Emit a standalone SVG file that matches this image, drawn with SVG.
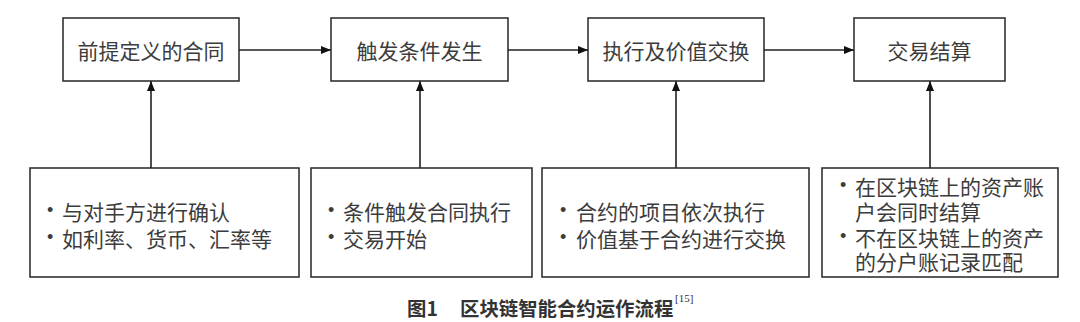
<svg xmlns="http://www.w3.org/2000/svg" width="1080" height="322" viewBox="0 0 1080 322">
<style>
.box{fill:#fff;stroke:#333;stroke-width:1.6}
.t{font-family:"Noto Sans CJK SC","Noto Sans",sans-serif;font-size:21px;fill:#3c3c3c;dominant-baseline:central}
.td{font-family:"Liberation Sans","Noto Sans CJK SC",sans-serif;font-size:21px;fill:#3c3c3c;dominant-baseline:central}
.b{font-family:"Liberation Sans",sans-serif;font-size:18px;fill:#3c3c3c;dominant-baseline:central}
.c{text-anchor:middle}
.cap{font-family:"Noto Sans CJK SC","Noto Sans",sans-serif;font-size:19.4px;font-weight:bold;fill:#333;dominant-baseline:central}
.sup{font-family:"Liberation Serif",serif;font-size:11px;fill:#333}
.ln{fill:none;stroke:#222;stroke-width:1.6}
</style>
<defs>
<marker id="ah" viewBox="0 0 10 8" refX="10" refY="4" markerWidth="10" markerHeight="8" markerUnits="userSpaceOnUse" orient="auto">
<path d="M0,0 L10,4 L0,8 z" fill="#111"/>
</marker>
</defs>
<rect width="1080" height="322" fill="#fff"/>
<g id="n1"><rect class="box" x="63" y="18" width="176" height="63"/><text class="t c" x="151" y="50">前提定义的合同</text></g>
<g id="n2"><rect class="box" x="331" y="18" width="177" height="63"/><text class="t c" x="419.5" y="50">触发条件发生</text></g>
<g id="n3"><rect class="box" x="588" y="18" width="176" height="63"/><text class="t c" x="676" y="50">执行及价值交换</text></g>
<g id="n4"><rect class="box" x="854" y="18" width="151" height="63"/><text class="t c" x="929.5" y="50">交易结算</text></g>
<g id="b1"><rect class="box" x="30" y="168" width="269" height="109"/>
<text class="b" x="47" y="210">•</text><text class="td" x="62" y="212">与对手方进行确认</text>
<text class="b" x="47" y="237">•</text><text class="td" x="62" y="239">如利率、货币、汇率等</text></g>
<g id="b2"><rect class="box" x="311" y="168" width="221" height="109"/>
<text class="b" x="328" y="210">•</text><text class="td" x="343" y="212">条件触发合同执行</text>
<text class="b" x="328" y="237">•</text><text class="td" x="343" y="239">交易开始</text></g>
<g id="b3"><rect class="box" x="542" y="168" width="267" height="109"/>
<text class="b" x="560" y="210">•</text><text class="td" x="576" y="212">合约的项目依次执行</text>
<text class="b" x="560" y="237">•</text><text class="td" x="576" y="239">价值基于合约进行交换</text></g>
<g id="b4"><rect class="box" x="822" y="168" width="236" height="109"/>
<text class="b" x="840" y="185">•</text><text class="td" x="855" y="187">在区块链上的资产账</text>
<text class="td" x="855" y="212">户会同时结算</text>
<text class="b" x="840" y="236">•</text><text class="td" x="855" y="238">不在区块链上的资产</text>
<text class="td" x="855" y="262">的分户账记录匹配</text></g>
<g id="connectors">
<line class="ln" x1="239" y1="50" x2="331" y2="50" marker-end="url(#ah)"/>
<line class="ln" x1="508" y1="50" x2="588" y2="50" marker-end="url(#ah)"/>
<line class="ln" x1="764" y1="50" x2="854" y2="50" marker-end="url(#ah)"/>
<line class="ln" x1="151" y1="168" x2="151" y2="81" marker-end="url(#ah)"/>
<line class="ln" x1="420" y1="168" x2="420" y2="81" marker-end="url(#ah)"/>
<line class="ln" x1="676" y1="168" x2="676" y2="81" marker-end="url(#ah)"/>
<line class="ln" x1="930" y1="168" x2="930" y2="81" marker-end="url(#ah)"/>
</g>
<g id="caption">
<text class="cap" x="407" y="307">图1</text>
<text class="cap" x="460" y="307">区块链智能合约运作流程</text>
<text class="sup" x="675" y="302">[15]</text>
</g>
</svg>
